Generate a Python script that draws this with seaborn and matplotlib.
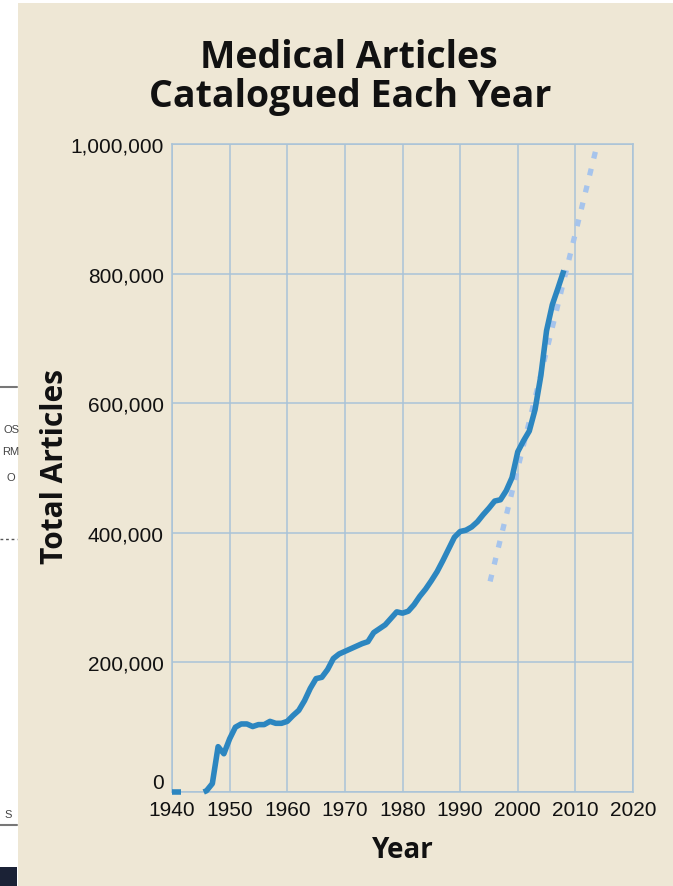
import matplotlib
matplotlib.use("Agg")
import matplotlib.pyplot as plt
import matplotlib.patches as mpatches
import matplotlib.lines as mlines
from matplotlib.ticker import FuncFormatter
import seaborn as sns
import pandas as pd

# ---------------- data ----------------
early_years = [1940, 1941.5]
early_values = [0, 0]

years = [1945.5, 1946, 1947, 1948, 1949, 1950, 1951, 1952, 1953, 1954, 1955,
         1956, 1957, 1958, 1959, 1960, 1961, 1962, 1963, 1964, 1965, 1966,
         1967, 1968, 1969, 1970, 1971, 1972, 1973, 1974, 1975, 1976, 1977,
         1978, 1979, 1980, 1981, 1982, 1983, 1984, 1985, 1986, 1987, 1988,
         1989, 1990, 1991, 1992, 1993, 1994, 1995, 1996, 1997, 1998, 1999,
         2000, 2001, 2002, 2003, 2004, 2005, 2006, 2007, 2008]
articles = [0, 2000, 13000, 70000, 59000, 82000, 100000, 105000, 105000,
            101000, 104000, 104000, 109000, 106000, 106000, 109000, 118000,
            126000, 141000, 160000, 175000, 177000, 189000, 206000, 213000,
            217000, 221000, 225000, 229000, 232000, 246000, 252000, 258000,
            268000, 278000, 276000, 279000, 289000, 302000, 313000, 326000,
            340000, 357000, 375000, 393000, 402000, 404000, 409000, 417000,
            428000, 438000, 449000, 451000, 465000, 485000, 525000, 542000,
            557000, 590000, 642000, 712000, 752000, 778000, 805000]

trend_years = [1995.2, 2013.8]
trend_values = [325000, 1000000]

x_ticks = [1940, 1950, 1960, 1970, 1980, 1990, 2000, 2010, 2020]
y_ticks = [0, 200000, 400000, 600000, 800000, 1000000]

title_lines = ["Medical Articles", "Catalogued Each Year"]
x_label = "Year"
y_label = "Total Articles"

# ---------------- style ----------------
BG = "#EEE7D5"
LINE = "#2C86C0"
TREND = "#A6C4EC"
GRID = "#A9C3D8"

sns.set_theme(style="white")
plt.rcParams["font.family"] = ["Open Sans", "DejaVu Sans"]

fig = plt.figure(figsize=(6.73, 8.87), dpi=100)
fig.patch.set_facecolor(BG)

W, H = 673, 887
def fx(px):
    return px / W
def fy(py):
    return 1 - py / H

# left screenshot strip (fragment of a neighbouring figure)
fig.patches.append(mpatches.Rectangle((0, 0), fx(18), 1, transform=fig.transFigure,
                                      facecolor="white", edgecolor="none", zorder=0))
fig.patches.append(mpatches.Rectangle((0, fy(4)), 1, 4 / H, transform=fig.transFigure,
                                      facecolor="white", edgecolor="none", zorder=0))
fig.patches.append(mpatches.Rectangle((0, 0), fx(17), 19 / H, transform=fig.transFigure,
                                      facecolor="#1B2236", edgecolor="none", zorder=1))
for yy in (388, 826):
    fig.lines.append(mlines.Line2D([0, fx(17)], [fy(yy), fy(yy)], transform=fig.transFigure,
                                   color="#777777", lw=1.5))
fig.lines.append(mlines.Line2D([0, fx(17)], [fy(540), fy(540)], transform=fig.transFigure,
                               color="#555555", lw=1, ls=(0, (2, 2))))
small = ["Liberation Sans", "DejaVu Sans"]
fig.text(fx(19), fy(430), "OS", ha="right", va="center", fontsize=8, color="#444444", family=small)
fig.text(fx(19), fy(452), "RM", ha="right", va="center", fontsize=8, color="#444444", family=small)
fig.text(fx(15), fy(478), "O", ha="right", va="center", fontsize=8, color="#444444", family=small)
fig.text(fx(12), fy(815), "S", ha="right", va="center", fontsize=8, color="#444444", family=small)

# ---------------- axes ----------------
ax = fig.add_axes([fx(172), fy(793), fx(633) - fx(172), fy(145) - fy(793)])
ax.set_facecolor(BG)

df_early = pd.DataFrame({"Year": early_years, "Articles": early_values})
df_main = pd.DataFrame({"Year": years, "Articles": articles})
df_trend = pd.DataFrame({"Year": trend_years, "Articles": trend_values})

sns.lineplot(data=df_trend, x="Year", y="Articles", ax=ax, color=TREND,
             linewidth=3.8, zorder=3, clip_on=False)
ax.lines[-1].set_dashes([1.3, 2.0])
ax.lines[-1].set_dash_capstyle("butt")

sns.lineplot(data=df_early, x="Year", y="Articles", ax=ax, color=LINE,
             linewidth=4.0, zorder=4, clip_on=False)
sns.lineplot(data=df_main, x="Year", y="Articles", ax=ax, color=LINE,
             linewidth=4.0, zorder=4, clip_on=False)
for ln in ax.lines[-2:]:
    ln.set_solid_joinstyle("round")
    ln.set_solid_capstyle("butt")

ax.set_xlim(1940, 2020)
ax.set_ylim(0, 1000000)
ax.set_xticks(x_ticks)
ax.set_yticks(y_ticks)
ax.yaxis.set_major_formatter(FuncFormatter(lambda v, p: f"{int(v):,}"))

ax.grid(True, color=GRID, linewidth=1.1)
ax.set_axisbelow(True)
for s in ax.spines.values():
    s.set_color(GRID)
    s.set_linewidth(1.1)

tick_font = ["Liberation Sans", "DejaVu Sans"]
ax.tick_params(axis="both", length=0, labelsize=15, colors="#111111")
ax.tick_params(axis="y", pad=6)
ax.tick_params(axis="x", pad=6)
for lab in ax.get_xticklabels() + ax.get_yticklabels():
    lab.set_family(tick_font)
# the "0" label sits just above the baseline in the original
ax.get_yticklabels()[0].set_verticalalignment("bottom")

ax.set_xlabel("")
ax.set_ylabel("")

fig.text(fx(403), fy(858), x_label, ha="center", va="baseline",
         fontsize=20, fontweight="bold", color="#111111")
fig.text(fx(55), fy(467), y_label, ha="center", va="center", rotation=90,
         fontsize=21.5, fontweight="bold", color="#111111")

fig.text(fx(349), fy(68), title_lines[0], ha="center", va="baseline",
         fontsize=27, fontweight="bold", color="#111111")
fig.text(fx(350), fy(107), title_lines[1], ha="center", va="baseline",
         fontsize=27, fontweight="bold", color="#111111")

fig.savefig("out.png", dpi=100, facecolor=fig.get_facecolor())
